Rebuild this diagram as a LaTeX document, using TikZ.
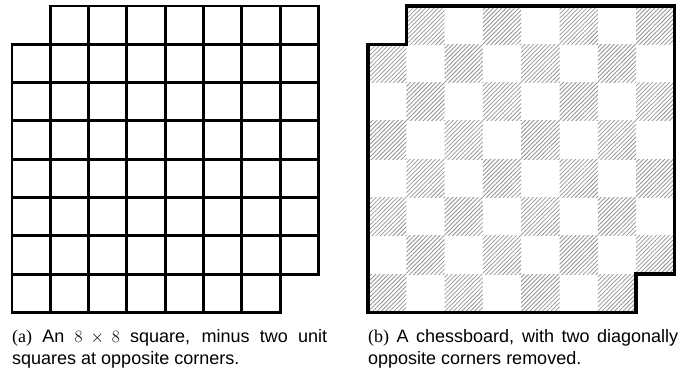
\documentclass[tikz,border=0pt]{standalone}
\usepackage{fontspec}
\setmainfont{Liberation Sans}
\newfontfamily\capserif{Liberation Serif}
\usetikzlibrary{patterns.meta}
\tikzset{
  gridline/.style={line width=2.9pt, line cap=rect},
  boardborder/.style={line width=3.3pt, line join=miter},
  hatch/.style={pattern={Lines[angle=45,distance=3pt,line width=0.8pt]}, pattern color=gray!85},
  captext/.style={anchor=north west, inner sep=0pt, align=justify, font=\fontsize{18}{21.5}\selectfont}
}
\begin{document}
\begin{tikzpicture}[x=1pt,y=-1pt]
\useasboundingbox (0,0) rectangle (684,370);
\def\c{38.3}
% (a) grid with two corners removed
\begin{scope}[shift={(12,6)}]
  \foreach \i in {0,...,7}{
    \foreach \j in {0,...,7}{
      \pgfmathtruncatemacro{\skip}{(\i==0 && \j==0) || (\i==7 && \j==7) ? 1 : 0}
      \ifnum\skip=0
        \draw[gridline] (\i*\c,\j*\c) rectangle ++(\c,\c);
      \fi
    }
  }
\end{scope}
% (b) chessboard
\begin{scope}[shift={(368,6)}]
  \foreach \i in {0,...,7}{
    \foreach \j in {0,...,7}{
      \pgfmathtruncatemacro{\odd}{mod(\i+\j,2)}
      \ifnum\odd=1
        \fill[hatch] (\i*\c,\j*\c) rectangle ++(\c,\c);
      \fi
    }
  }
  \draw[boardborder] (\c,0) -- (8*\c,0) -- (8*\c,7*\c) -- (7*\c,7*\c) -- (7*\c,8*\c)
     -- (0,8*\c) -- (0,\c) -- (\c,\c) -- cycle;
\end{scope}
\node[captext, text width=315pt] (capa) at (12,329.5)
  {{\capserif(a)} An $8\times 8$ square, minus two unit\linebreak squares at opposite corners.};
\node[captext, text width=310pt] (capb) at (368,329.5)
  {{\capserif(b)} A chessboard, with two diagonally\linebreak opposite corners removed.};
\end{tikzpicture}
\end{document}
